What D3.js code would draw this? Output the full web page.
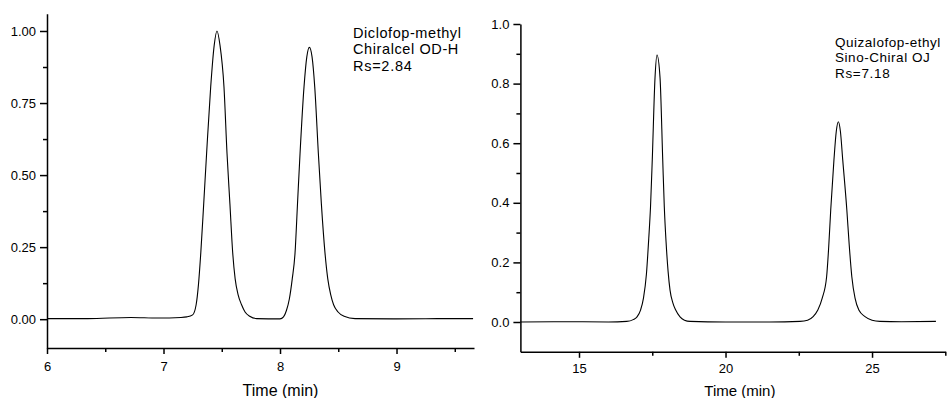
<!DOCTYPE html>
<html>
<head>
<meta charset="utf-8">
<script src="https://cdn.jsdelivr.net/npm/d3@7"></script>
<style>
  body { margin: 0; background: #fff; }
  svg { display: block; font-family: "Liberation Sans", Arial, sans-serif; }
  .axis path, .axis line { stroke: #000; }
  .axis text { fill: #000; font-size: 13px; }
</style>
</head>
<body>
<div id="chart"></div>
<script>
// left chromatogram: Diclofop-methyl
const leftTime = [6.0, 6.35, 6.72, 6.95, 7.15, 7.2, 7.25, 7.28, 7.3, 7.32, 7.345, 7.37, 7.405, 7.435, 7.459, 7.485, 7.519, 7.545, 7.57, 7.594, 7.615, 7.64, 7.67, 7.7, 7.74, 7.8,
  8.0, 8.03, 8.055, 8.08, 8.105, 8.129, 8.15, 8.172, 8.206, 8.23, 8.252, 8.275, 8.298, 8.329, 8.355, 8.386, 8.41, 8.435, 8.46, 8.498, 8.55, 8.644, 9.0, 9.4, 9.657];
const leftSignal = [0.002, 0.002, 0.006, 0.004, 0.006, 0.008, 0.015, 0.05, 0.12, 0.23, 0.4, 0.576, 0.806, 0.95, 1.0, 0.95, 0.806, 0.576, 0.4, 0.23, 0.14, 0.085, 0.05, 0.025, 0.01, 0.002,
  0.001, 0.008, 0.03, 0.07, 0.14, 0.23, 0.4, 0.576, 0.806, 0.91, 0.943, 0.91, 0.806, 0.576, 0.4, 0.23, 0.14, 0.085, 0.05, 0.025, 0.01, 0.002, 0.001, 0.002, 0.002];
const leftXTicks = [6, 7, 8, 9];
const leftXMinor = [6.5, 7.5, 8.5, 9.5];
const leftYTicks = [0, 0.25, 0.5, 0.75, 1.0];
const leftYMinor = [0.125, 0.375, 0.625, 0.875];
const leftLabel = ['Diclofop-methyl', 'Chiralcel OD-H', 'Rs=2.84'];

// right chromatogram: Quizalofop-ethyl
const rightTime = [13.0, 14.5, 16.0, 16.63, 16.85, 16.98, 17.1, 17.2, 17.3, 17.38, 17.44, 17.5, 17.594, 17.662, 17.765, 17.857, 17.911, 17.97, 18.04, 18.106, 18.2, 18.3, 18.447, 18.6, 18.788,
  20.0, 21.5, 22.54, 22.8, 22.99, 23.15, 23.3, 23.45, 23.52, 23.59, 23.7, 23.78, 23.85, 23.92, 24.0, 24.14, 24.22, 24.31, 24.42, 24.55, 24.76, 25.0, 25.27, 26.0, 27.18];
const rightSignal = [0.0, 0.001, 0.0, 0.002, 0.008, 0.017, 0.04, 0.08, 0.16, 0.28, 0.386, 0.544, 0.82, 0.896, 0.82, 0.544, 0.386, 0.27, 0.17, 0.107, 0.065, 0.04, 0.017, 0.006, 0.002,
  0.0, 0.0, 0.002, 0.006, 0.018, 0.04, 0.08, 0.152, 0.25, 0.376, 0.544, 0.64, 0.672, 0.64, 0.544, 0.376, 0.26, 0.152, 0.08, 0.04, 0.018, 0.006, 0.002, 0.001, 0.002];
const rightXTicks = [15, 20, 25];
const rightXMinor = [17.5, 22.5, 27.5];
const rightYTicks = [0, 0.2, 0.4, 0.6, 0.8, 1.0];
const rightYMinor = [0.1, 0.3, 0.5, 0.7, 0.9];
const rightLabel = ['Quizalofop-ethyl', 'Sino-Chiral OJ', 'Rs=7.18'];

const svg = d3.select('#chart').append('svg')
  .attr('width', 947)
  .attr('height', 398);

function drawPanel(opt) {
  const x = d3.scaleLinear().domain(opt.xDomain).range(opt.xRange);
  const y = d3.scaleLinear().domain(opt.yDomain).range(opt.yRange);
  const g = svg.append('g');

  // minor ticks first so the main axis line sits on top
  g.append('g')
    .attr('class', 'axis')
    .attr('transform', `translate(0,${opt.yRange[0]})`)
    .call(d3.axisBottom(x).tickValues(opt.xMinor).tickSize(4).tickFormat(''))
    .call(a => a.select('.domain').remove())
    .selectAll('line').attr('stroke-width', 1.5);

  g.append('g')
    .attr('class', 'axis')
    .attr('transform', `translate(${opt.xRange[0]},0)`)
    .call(d3.axisLeft(y).tickValues(opt.yMinor).tickSize(4).tickFormat(''))
    .call(a => a.select('.domain').remove())
    .selectAll('line').attr('stroke-width', 1.5);

  const xa = g.append('g')
    .attr('class', 'axis')
    .attr('transform', `translate(0,${opt.yRange[0]})`)
    .call(d3.axisBottom(x).tickValues(opt.xTicks).tickSize(6).tickSizeOuter(0).tickPadding(opt.xPad).tickFormat(d3.format('d')));
  xa.select('.domain').attr('stroke-width', 1.5);
  xa.selectAll('line').attr('stroke-width', 1.5);

  const ya = g.append('g')
    .attr('class', 'axis')
    .attr('transform', `translate(${opt.xRange[0]},0)`)
    .call(d3.axisLeft(y).tickValues(opt.yTicks).tickSize(7).tickSizeOuter(0).tickPadding(4).tickFormat(d3.format(opt.yFmt)));
  ya.select('.domain').attr('stroke-width', 1.5);
  ya.selectAll('line').attr('stroke-width', 1.5);

  const pts = opt.time.map((t, i) => [t, opt.signal[i]]);
  const line = d3.line()
    .x(d => x(d[0]))
    .y(d => y(d[1]))
    .curve(d3.curveMonotoneX);

  g.append('path')
    .datum(pts)
    .attr('fill', 'none')
    .attr('stroke', '#000')
    .attr('stroke-width', 1.1)
    .attr('d', line);

  g.append('text')
    .attr('x', (opt.xRange[0] + opt.xRange[1]) / 2 + opt.titleShift)
    .attr('y', 396)
    .attr('text-anchor', 'middle')
    .attr('font-size', opt.font)
    .text('Time (min)');

  // three-line annotation, one text per line, widened a bit to the reference width
  opt.label.forEach((s, i) => {
    const t = g.append('text')
      .attr('x', opt.labelX)
      .attr('y', opt.labelY + i * opt.lineGap)
      .attr('font-size', opt.labelFont)
      .text(s);
    const w = t.node().getComputedTextLength();
    t.attr('textLength', w * opt.stretch).attr('lengthAdjust', 'spacing');
  });
}

drawPanel({
  xDomain: [6, 9.665], xRange: [47, 474],
  yDomain: [-0.1, 1.06], yRange: [348, 13.7],
  xTicks: leftXTicks, xMinor: leftXMinor,
  yTicks: leftYTicks, yMinor: leftYMinor, yFmt: '.2f',
  time: leftTime, signal: leftSignal,
  xPad: 8, font: 16, titleShift: 20,
  label: leftLabel, labelX: 353, labelY: 37.5, lineGap: 16.5, labelFont: 14.5, stretch: 1.08
});

drawPanel({
  xDomain: [13, 27.5], xRange: [520.4, 945.3],
  yDomain: [-0.1, 1.0], yRange: [351.8, 24],
  xTicks: rightXTicks, xMinor: rightXMinor,
  yTicks: rightYTicks, yMinor: rightYMinor, yFmt: '.1f',
  time: rightTime, signal: rightSignal,
  xPad: 6, font: 15, titleShift: 7,
  label: rightLabel, labelX: 835, labelY: 46.5, lineGap: 15.5, labelFont: 13.5, stretch: 1.08
});
</script>
</body>
</html>
